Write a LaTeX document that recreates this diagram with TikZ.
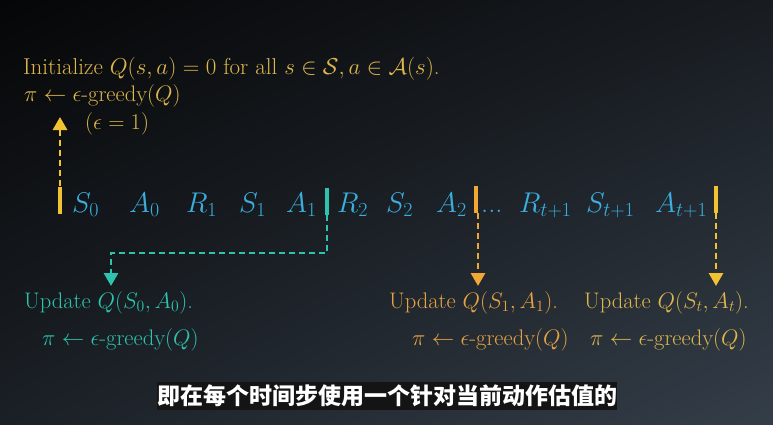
\documentclass[tikz,border=0pt]{standalone}
\usepackage{fix-cm}
\usepackage{amsmath}
\usepackage{fontspec}
\newfontfamily\cjk{Noto Sans CJK SC}
\usetikzlibrary{arrows.meta,positioning,shadings}
\definecolor{bgtl}{HTML}{050607}
\definecolor{bgtr}{HTML}{181C21}
\definecolor{bgbl}{HTML}{1B2026}
\definecolor{bgbr}{HTML}{343E49}
\definecolor{seqblue}{HTML}{3AAFE0}
\definecolor{sarsateal}{HTML}{2DC3AE}
\definecolor{sarsaorange}{HTML}{F2A633}
\definecolor{sarsayellow}{HTML}{F1C232}
\definecolor{textorange}{HTML}{E6A343}
\definecolor{textyellow}{HTML}{DDB64C}
\tikzset{
  seqsym/.style={
    text=seqblue,
    anchor=base west,
    inner sep=0pt,
    font=\fontsize{28.5}{32}\selectfont
  },
  note/.style={
    anchor=base west,
    inner sep=0pt,
    font=\fontsize{22.5}{26}\selectfont
  },
  stepbar/.style={
    minimum width=3.5pt,
    minimum height=27pt,
    inner sep=0pt
  },
  flowarrow/.style={
    -{Triangle[length=13pt,width=14pt]},
    line width=2.8pt,
    dash pattern=on 6pt off 4pt
  }
}

\begin{document}
\begin{tikzpicture}[x=1pt,y=-1pt]
\shade[upper left=bgtl, upper right=bgtr, lower left=bgbl, lower right=bgbr]
  (0,0) rectangle (773,425);
\useasboundingbox (0,0) rectangle (773,425);

\node[note, text=textyellow, font=\fontsize{23}{26}\selectfont] (init) at (23,75)
  {Initialize $Q(s,a)=0$ for all $s\in\mathcal{S}, a\in\mathcal{A}(s)$.};
\node[note, text=textyellow] (initpol) at (24,102) {$\pi\leftarrow\epsilon$-greedy$(Q)$};
\node[note, text=textyellow] (epsone) at (85,129) {$(\epsilon=1)$};

\node[stepbar, fill=sarsayellow] (bar0) at (60,200) {};
\node[seqsym] (s0) at (72,212) {$S_0$};
\node[seqsym] (a0) at (129,212) {$A_0$};
\node[seqsym] (r1) at (186,212) {$R_1$};
\node[seqsym] (s1) at (239,212) {$S_1$};
\node[seqsym] (a1) at (286,212) {$A_1$};
\node[stepbar, fill=sarsateal] (bar1) at (327,201) {};
\node[seqsym] (r2) at (337,212) {$R_2$};
\node[seqsym] (s2) at (386,212) {$S_2$};
\node[seqsym] (a2) at (436,212) {$A_2$};
\node[stepbar, fill=sarsaorange] (bar2) at (476,199) {};
\node[seqsym] (dots) at (481,212) {...};
\node[seqsym] (rt) at (519,212) {$R_{t+1}$};
\node[seqsym] (st) at (586,212) {$S_{t+1}$};
\node[seqsym] (at) at (655,212) {$A_{t+1}$};
\node[stepbar, fill=sarsayellow] (bar3) at (716,199) {};

\node[note, text=sarsateal] (upd0) at (24,308) {Update $Q(S_0,A_0)$.};
\node[note, text=sarsateal] (pol0) at (42,345) {$\pi\leftarrow\epsilon$-greedy$(Q)$};
\node[note, text=textorange] (upd1) at (389,308) {Update $Q(S_1,A_1)$.};
\node[note, text=textorange] (pol1) at (412,345) {$\pi\leftarrow\epsilon$-greedy$(Q)$};
\node[note, text=textyellow] (updt) at (584,308) {Update $Q(S_t,A_t)$.};
\node[note, text=textyellow] (polt) at (590,345) {$\pi\leftarrow\epsilon$-greedy$(Q)$};

\coordinate (tipinit) at (60,117);
\coordinate (turn0) at (327,253);
\coordinate (tip0) at (111,286);
\coordinate (tip1) at (478,286);
\coordinate (tipt) at (716,286);
\draw[flowarrow, sarsayellow] (bar0.north) -- (tipinit);
\draw[flowarrow, sarsateal] (bar1.south) -- (turn0) -| (tip0);
\draw[flowarrow, sarsaorange] (bar2.south -| tip1) -- (tip1);
\draw[flowarrow, sarsayellow] (bar3.south) -- (tipt);

\node[fill=black!92, minimum width=455pt, minimum height=28pt, inner sep=0pt,
  text=white, font=\cjk\bfseries\fontsize{23}{26}\selectfont] (subtitle) at (387,396)
  {即在每个时间步使用一个针对当前动作估值的};
\end{tikzpicture}
\end{document}
